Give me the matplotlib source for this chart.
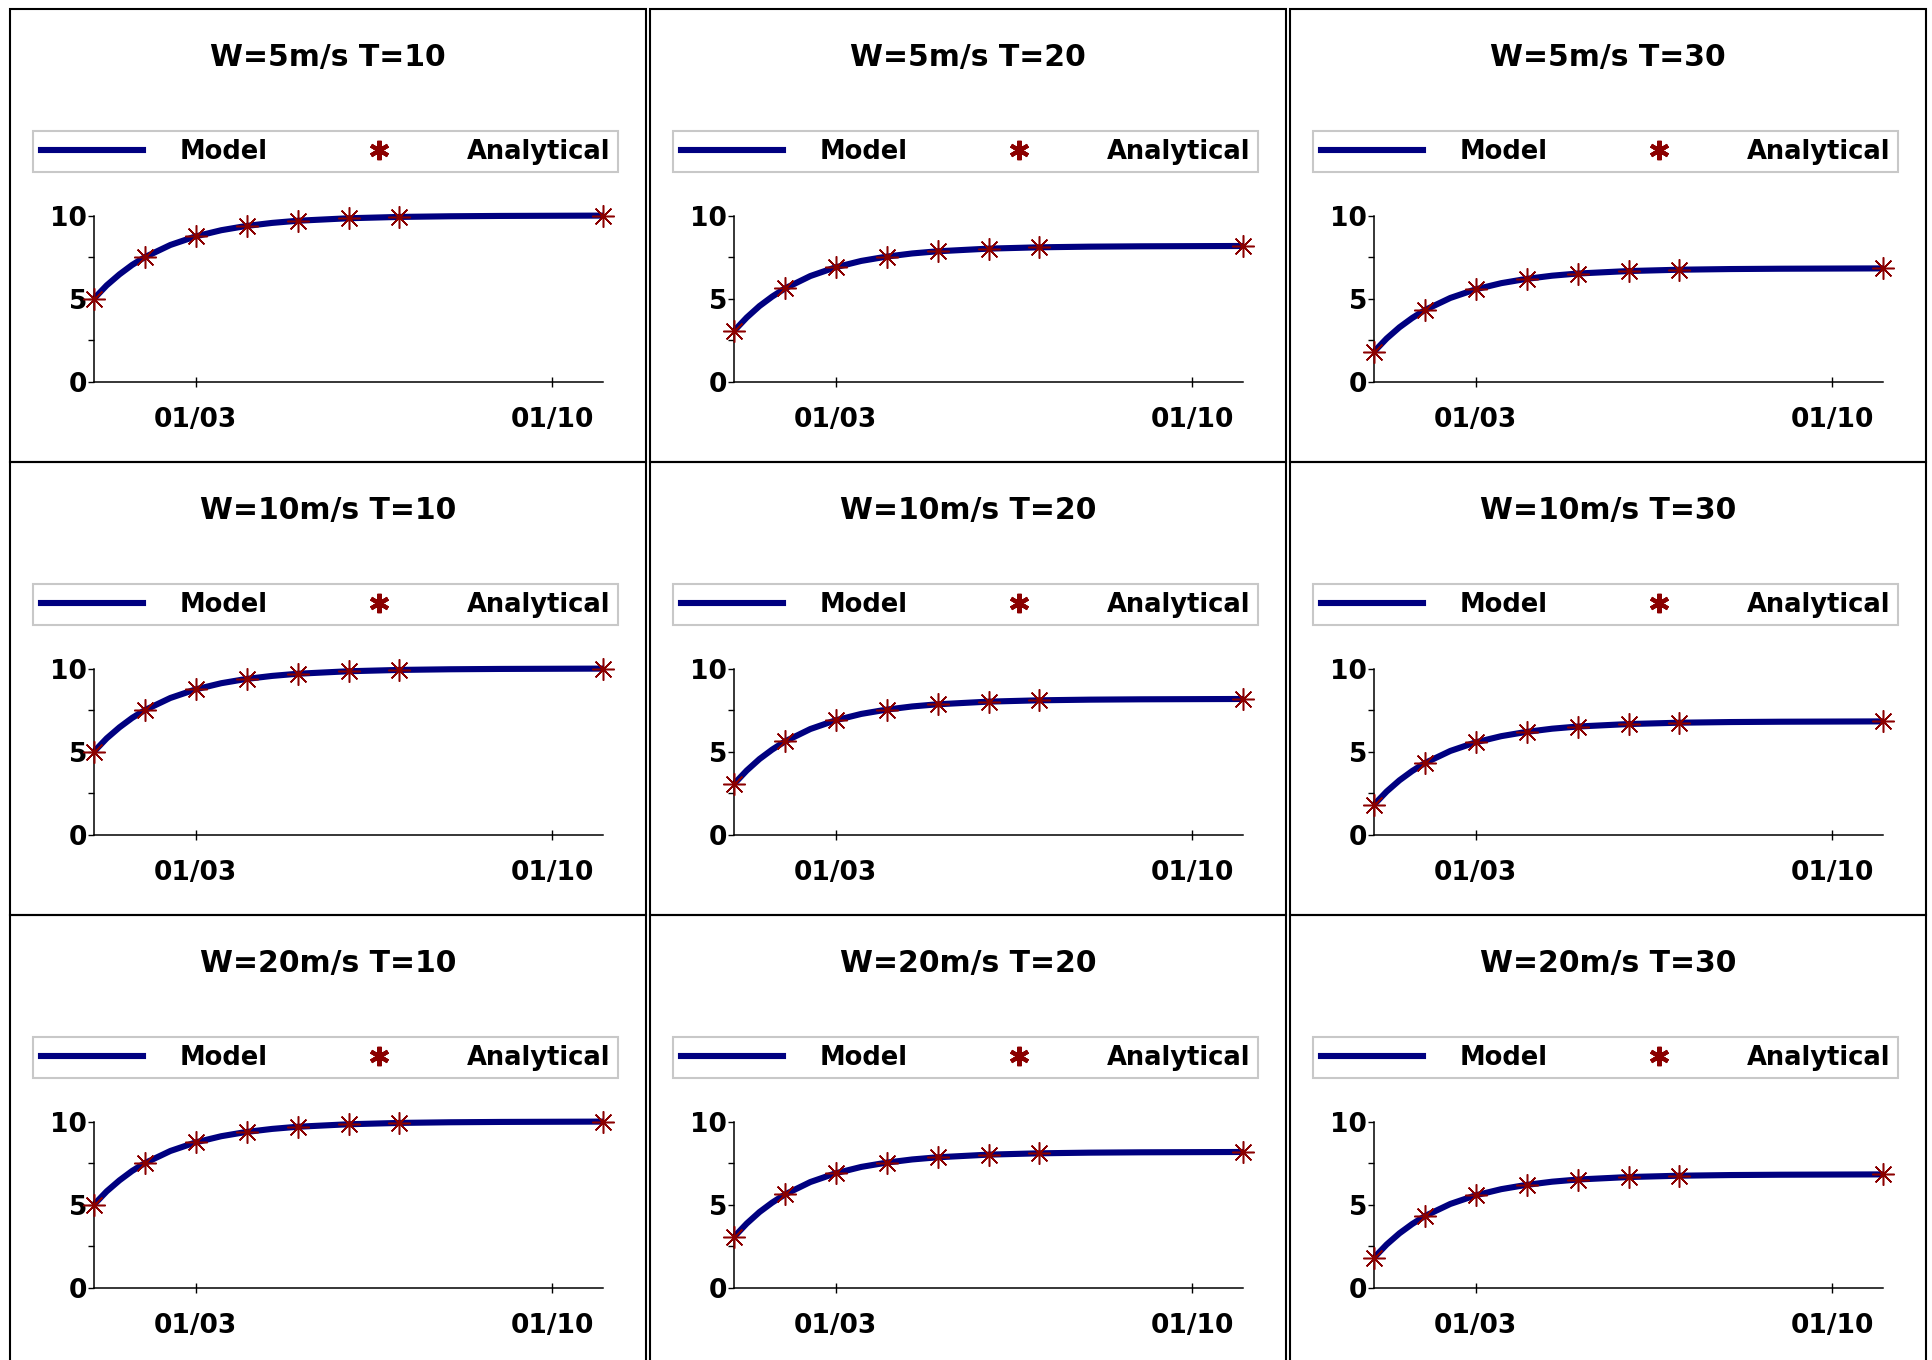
import pandas as pd
import matplotlib
matplotlib.use('Agg')
import matplotlib.pyplot as plt
import matplotlib.dates as mdates
from matplotlib.lines import Line2D
from matplotlib.patches import Rectangle

# values (same curves in every row, one per T)
wind_labels = ['5m/s', '10m/s', '20m/s']
temp_labels = ['10', '20', '30']

model_days = [0, 0.25, 0.5, 0.75, 1, 1.5, 2, 2.5, 3, 3.5, 4, 5, 6, 7, 8, 10]
model_t10 = [5.0, 5.80, 6.46, 7.03, 7.5, 8.23, 8.75, 9.12, 9.38, 9.56, 9.69, 9.84, 9.92, 9.96, 9.98, 10.0]
model_t20 = [3.05, 3.86, 4.55, 5.12, 5.61, 6.36, 6.89, 7.27, 7.53, 7.72, 7.85, 8.01, 8.09, 8.13, 8.15, 8.17]
model_t30 = [1.80, 2.60, 3.27, 3.83, 4.31, 5.04, 5.56, 5.93, 6.19, 6.38, 6.51, 6.66, 6.74, 6.78, 6.80, 6.82]

analytical_days = [0, 1, 2, 3, 4, 5, 6, 10]
analytical_t10 = [5.0, 7.5, 8.75, 9.38, 9.69, 9.84, 9.92, 10.0]
analytical_t20 = [3.05, 5.62, 6.90, 7.53, 7.84, 8.00, 8.08, 8.16]
analytical_t30 = [1.80, 4.30, 5.55, 6.18, 6.51, 6.66, 6.74, 6.82]

model_by_t = [model_t10, model_t20, model_t30]
analytical_by_t = [analytical_t10, analytical_t20, analytical_t30]

start = pd.Timestamp('2001-01-01')
x_model = start + pd.to_timedelta(model_days, unit='D')
x_analytical = start + pd.to_timedelta(analytical_days, unit='D')
x_ticks = pd.to_datetime(['2001-01-03', '2001-01-10'])

NAVY = '#000080'
MAROON = '#8b0000'
W, H = 1933, 1360

plt.rcParams['font.family'] = ['DejaVu Sans']
plt.rcParams['font.weight'] = 'bold'

fig = plt.figure(figsize=(W / 100, H / 100), dpi=100)


def fbox(x, y, w, h):
    """ Pixel box (top-left origin) to figure fraction. """
    return [x / W, 1 - (y + h) / H, w / W, h / H]


for r, wind in enumerate(wind_labels):
    for c, temp in enumerate(temp_labels):
        x0 = 10 + 640 * c
        y0 = 8.6 + 453 * r

        # panel frame
        fig.add_artist(Rectangle((x0 / W, 1 - (y0 + 453) / H), 636 / W, 453 / H,
                                 transform=fig.transFigure, fill=False,
                                 edgecolor='black', linewidth=1.5))
        fig.text((x0 + 318) / W, 1 - (y0 + 49) / H, f"W={wind} T={temp}",
                 ha='center', va='center', fontsize=21.5, fontweight='bold')

        ax = fig.add_axes(fbox(x0 + 84, y0 + 207, 509, 166))
        ax.plot(x_model, model_by_t[c], color=NAVY, linewidth=4.4,
                solid_capstyle='butt', clip_on=False, zorder=2)
        ax.plot(x_analytical, analytical_by_t[c], linestyle='none',
                marker=(8, 2, 0), markersize=16, markeredgewidth=1.1,
                color=MAROON, clip_on=False, zorder=3)

        ax.set_ylim(0, 10)
        ax.set_xlim(start, start + pd.Timedelta(days=10))
        ax.set_yticks([0, 5, 10])
        ax.set_yticks([2.5, 7.5], minor=True)
        ax.set_xticks(x_ticks)
        ax.xaxis.set_major_formatter(mdates.DateFormatter('%m/%d'))
        for s in ('top', 'right'):
            ax.spines[s].set_visible(False)
        for s in ('left', 'bottom'):
            ax.spines[s].set_linewidth(1.1)
        ax.tick_params(axis='y', which='both', direction='out', length=4,
                       width=1, pad=1, labelsize=19)
        ax.tick_params(axis='x', direction='inout', length=7, width=1,
                       pad=15, labelsize=19)
        for lab in ax.get_xticklabels() + ax.get_yticklabels():
            lab.set_fontweight('bold')

        handles = [Line2D([], [], color=NAVY, linewidth=4.4),
                   Line2D([], [], linestyle='none', marker=(6, 2, 0),
                          markersize=14, markeredgewidth=3, color=MAROON)]
        b = fbox(x0 + 23, y0 + 121, 585, 44)
        leg = ax.legend(handles, ['Model', 'Analytical'], ncol=2, mode='expand',
                        loc='center', bbox_to_anchor=b,
                        bbox_transform=fig.transFigure, borderaxespad=0,
                        prop={'size': 18.5, 'weight': 'bold'},
                        handlelength=4.0, handletextpad=1.4, borderpad=0.3,
                        fancybox=False, framealpha=1)
        leg.get_frame().set_edgecolor('#c8c8c8')
        leg.get_frame().set_linewidth(1.5)

fig.savefig('out.png', dpi=100)
